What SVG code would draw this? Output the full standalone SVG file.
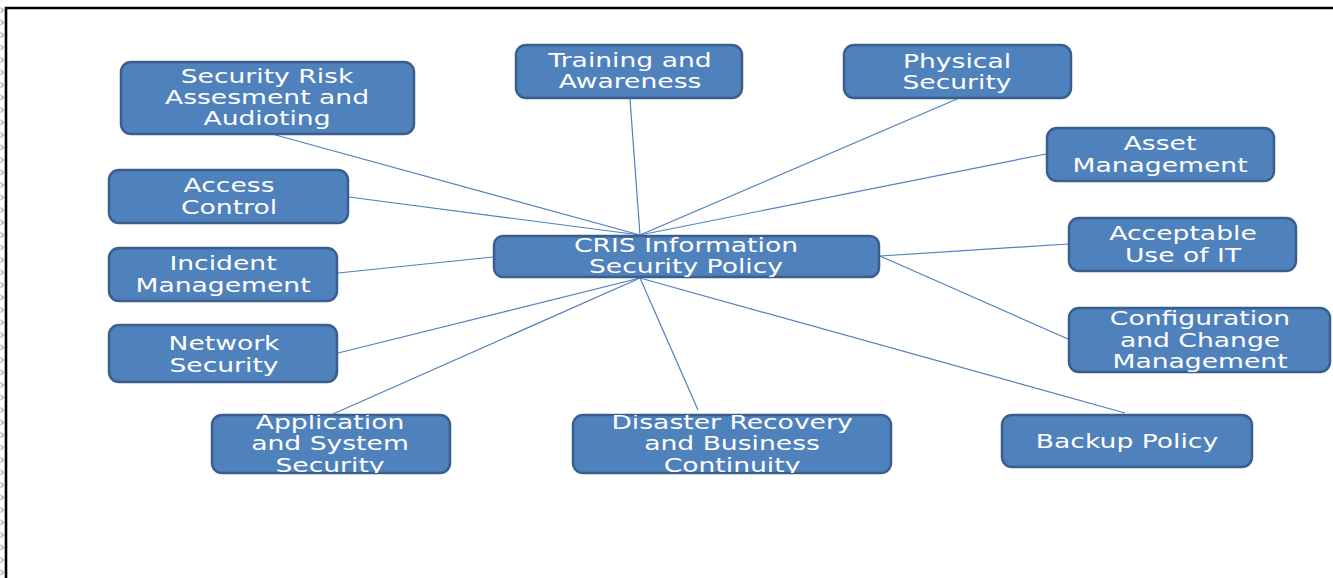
<svg xmlns="http://www.w3.org/2000/svg" width="1333" height="578" viewBox="0 0 1333 578">
<style>
.node rect{fill:#4f81bd;stroke:#3a5f8c;stroke-width:2.5}
.node text{fill:#ffffff;font-family:"DejaVu Sans",Verdana,sans-serif;font-size:20px;text-anchor:middle}
.conn line{stroke:#4f81bd;stroke-width:1.2}
</style>
<defs>
<pattern id="chev" x="0" y="4" width="6" height="12.5" patternUnits="userSpaceOnUse">
<path d="M0.5,3.5 L3.5,6 L0.5,8.5" fill="none" stroke="#999999" stroke-width="1"/>
</pattern>
<clipPath id="clipApp"><rect x="212" y="415" width="238" height="58" rx="9"/></clipPath>
<clipPath id="clipDis"><rect x="573" y="415" width="318" height="58" rx="9"/></clipPath>
</defs>
<rect width="1333" height="578" fill="#ffffff"/>
<rect x="0" y="0" width="5" height="578" fill="url(#chev)"/>
<path d="M6,578 V8 H1333" fill="none" stroke="#000000" stroke-width="2.6"/>
<g class="conn">
<line x1="272" y1="134" x2="640" y2="235"/>
<line x1="630" y1="99" x2="640" y2="235"/>
<line x1="957" y1="99" x2="640" y2="235"/>
<line x1="1046" y1="154" x2="640" y2="235"/>
<line x1="349" y1="197" x2="640" y2="235"/>
<line x1="338" y1="273" x2="493" y2="257"/>
<line x1="1068" y1="244" x2="880" y2="256"/>
<line x1="1068" y1="339" x2="880" y2="256"/>
<line x1="338" y1="353" x2="640" y2="278"/>
<line x1="333" y1="414" x2="640" y2="278"/>
<line x1="698" y1="410" x2="640" y2="278"/>
<line x1="1125" y1="413" x2="640" y2="278"/>
</g>
<g id="n-risk" class="node"><rect x="121" y="62" width="293" height="72" rx="10"/><text transform="translate(267,0) scale(1.33,1)"><tspan x="0" y="83">Security Risk</tspan><tspan x="0" y="104">Assesment and</tspan><tspan x="0" y="125">Audioting</tspan></text></g>
<g id="n-training" class="node"><rect x="516" y="45" width="226" height="53" rx="10"/><text transform="translate(630,0) scale(1.33,1)"><tspan x="0" y="67">Training and</tspan><tspan x="0" y="88">Awareness</tspan></text></g>
<g id="n-physical" class="node"><rect x="844" y="45" width="227" height="53" rx="10"/><text transform="translate(957,0) scale(1.33,1)"><tspan x="0" y="68">Physical</tspan><tspan x="0" y="89">Security</tspan></text></g>
<g id="n-asset" class="node"><rect x="1047" y="128" width="227" height="53" rx="10"/><text transform="translate(1160,0) scale(1.33,1)"><tspan x="0" y="150">Asset</tspan><tspan x="0" y="172">Management</tspan></text></g>
<g id="n-access" class="node"><rect x="109" y="170" width="239" height="53" rx="10"/><text transform="translate(229,0) scale(1.33,1)"><tspan x="0" y="192">Access</tspan><tspan x="0" y="214">Control</tspan></text></g>
<g id="n-cris" class="node"><rect x="494" y="236" width="385" height="41" rx="9"/><text transform="translate(686,0) scale(1.33,1)"><tspan x="0" y="252">CRIS Information</tspan><tspan x="0" y="273">Security Policy</tspan></text></g>
<g id="n-acceptable" class="node"><rect x="1069" y="218" width="227" height="53" rx="10"/><text transform="translate(1183,0) scale(1.33,1)"><tspan x="0" y="240">Acceptable</tspan><tspan x="0" y="262">Use of IT</tspan></text></g>
<g id="n-incident" class="node"><rect x="109" y="248" width="228" height="53" rx="10"/><text transform="translate(223,0) scale(1.33,1)"><tspan x="0" y="270">Incident</tspan><tspan x="0" y="292">Management</tspan></text></g>
<g id="n-config" class="node"><rect x="1069" y="308" width="261" height="64" rx="10"/><text transform="translate(1200,0) scale(1.33,1)"><tspan x="0" y="325">Configuration</tspan><tspan x="0" y="347">and Change</tspan><tspan x="0" y="368">Management</tspan></text></g>
<g id="n-network" class="node"><rect x="109" y="325" width="228" height="57" rx="10"/><text transform="translate(224,0) scale(1.33,1)"><tspan x="0" y="350">Network</tspan><tspan x="0" y="372">Security</tspan></text></g>
<g id="n-application" class="node"><rect x="212" y="415" width="238" height="58" rx="10"/><g clip-path="url(#clipApp)"><text transform="translate(330,0) scale(1.33,1)"><tspan x="0" y="429">Application</tspan><tspan x="0" y="450">and System</tspan><tspan x="0" y="472">Security</tspan></text></g></g>
<g id="n-disaster" class="node"><rect x="573" y="415" width="318" height="58" rx="10"/><g clip-path="url(#clipDis)"><text transform="translate(732,0) scale(1.33,1)"><tspan x="0" y="429">Disaster Recovery</tspan><tspan x="0" y="450">and Business</tspan><tspan x="0" y="472">Continuity</tspan></text></g></g>
<g id="n-backup" class="node"><rect x="1002" y="415" width="250" height="52" rx="10"/><text transform="translate(1127,0) scale(1.33,1)"><tspan x="0" y="448">Backup Policy</tspan></text></g>
</svg>
